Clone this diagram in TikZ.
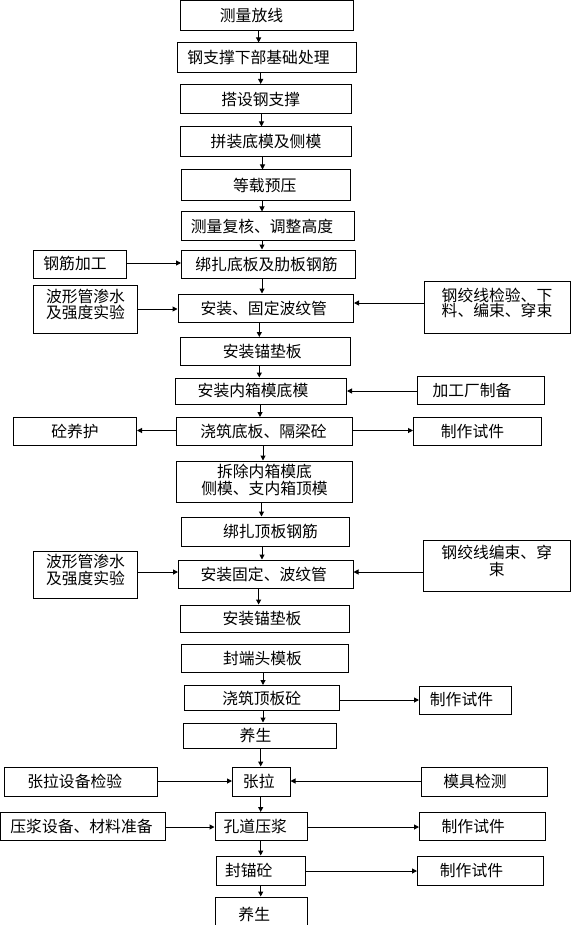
\documentclass[tikz,border=0pt]{standalone}
\usepackage{fontspec}
\setmainfont{Noto Sans CJK SC}
\usetikzlibrary{arrows.meta}
\tikzset{
  txt/.style={font=\fontsize{15.8}{15.5}\selectfont, align=center, inner sep=0pt},
  box/.style={draw, line width=1pt, inner sep=0pt, txt},
  arr/.style={line width=1pt, -{Triangle[length=5pt,width=5pt]}},
}
% single-line box: optional horizontal text shift
\newcommand\bx[7][0]{\node[box, minimum width={#5-#3}, minimum height={#6-#4}] (#2) at ({(#3+#5)/2},{(#4+#6)/2}) {\kern#1pt\relax #7\kern-#1pt\relax};}
% multi-line box: #1 = vertical text shift, #2 = line spacing
\newcommand\mbx[8]{\node[box, minimum width={#5-#3}, minimum height={#6-#4},
   label={[txt, yshift=#1pt, font=\fontsize{15.8}{#8}\selectfont]center:#7}] (#2) at ({(#3+#5)/2},{(#4+#6)/2}) {};}
\newcommand\varr[3]{\draw[arr] (#1.south -| #3,0) -- (#2.north -| #3,0);}
\newcommand\harr[3]{\draw[arr] (#1 |- 0,#3) -- (#2 |- 0,#3);}
\begin{document}
\begin{tikzpicture}[x=1pt,y=-1pt]
\path[use as bounding box, fill=white] (0,0) rectangle (571,925);
\clip (0,0) rectangle (571,925);
\bx[-15]{b1}{180}{0.5}{353}{31}{测量放线}
\bx[-8]{b2}{177}{43}{356}{72.5}{钢支撑下部基础处理}
\bx[-5]{b3}{180}{84.5}{351.5}{114}{搭设钢支撑}
\bx[0]{b4}{180.5}{127}{351.5}{156.5}{拼装底模及侧模}
\bx[-1]{b5}{181.5}{170}{350}{200.5}{等载预压}
\bx[-6]{b6}{181.5}{212}{354.5}{240.5}{测量复核、调整高度}
\bx[-5]{b7}{33.5}{250}{126.5}{278}{钢筋加工}
\bx[-2]{b8}{181.5}{250}{355.5}{278.5}{绑扎底板及肋板钢筋}
\mbx{4.3}{b9}{33.5}{285}{137.5}{333}{波形管渗水\\及强度实验}{15.5}
\bx[-2]{b10}{178}{294}{353.5}{322.5}{安装、固定波纹管}
\mbx{4.5}{b11}{424}{281}{570}{333}{钢绞线检验、下\\料、编束、穿束}{15}
\bx[-3]{b12}{180.5}{337.5}{350}{365}{安装锚垫板}
\bx[-8]{b13}{175.5}{378}{346.5}{404}{安装内箱模底模}
\bx[-9]{b14}{417.5}{376.5}{544.5}{404}{加工厂制备}
\bx[0]{b15}{13.5}{417.5}{136.5}{445.5}{砼养护}
\bx[-1]{b16}{176.5}{417.5}{352.5}{445.5}{浇筑底板、隔梁砼}
\bx[-5]{b17}{413.5}{417.5}{541.5}{445.5}{制作试件}
\mbx{1.5}{b18}{176.5}{461}{352.5}{502.5}{拆除内箱模底\\侧模、支内箱顶模}{17.3}
\bx[5]{b19}{181.5}{517}{349.5}{546}{绑扎顶板钢筋}
\mbx{4.5}{b20}{33.5}{551}{137.5}{598}{波形管渗水\\及强度实验}{17}
\bx[-2]{b21}{178.5}{560}{353}{588.5}{安装固定、波纹管}
\mbx{4.5}{b22}{423.5}{540}{570}{591}{钢绞线编束、穿\\束}{17}
\bx[-3]{b23}{180.5}{605}{349.5}{632}{安装锚垫板}
\bx[-2]{b24}{181}{644.5}{348}{672.5}{封端头模板}
\bx[0]{b25}{184}{685.5}{339.5}{710.5}{浇筑顶板砼}
\bx[-4]{b26}{419.5}{686}{511.5}{714}{制作试件}
\bx[-4]{b27}{183}{723}{336}{748}{养生}
\bx[-6]{b28}{4.5}{767}{157}{796.5}{张拉设备检验}
\bx[-2.5]{b29}{232.5}{767}{290}{796.5}{张拉}
\bx[-9]{b30}{421}{767}{547}{796.5}{模具检测}
\bx[-1.5]{b31}{0.5}{812.5}{165.5}{840.5}{压浆设备、材料准备}
\bx[-6]{b32}{215}{812.5}{307.5}{840.5}{孔道压浆}
\bx[-9]{b33}{419.5}{812.5}{545}{840.5}{制作试件}
\bx[-12]{b34}{216.5}{856}{305}{885.5}{封锚砼}
\bx[-9]{b35}{417.5}{856}{543.5}{885.5}{制作试件}
\bx[-7]{b36}{215}{897}{307.5}{932}{养生}
\varr{b1}{b2}{258.6}
\varr{b2}{b3}{260.7}
\varr{b3}{b4}{261.5}
\varr{b4}{b5}{262.5}
\varr{b5}{b6}{262}
\varr{b6}{b8}{262}
\varr{b8}{b10}{262}
\varr{b10}{b12}{259.3}
\varr{b12}{b13}{259.3}
\varr{b13}{b16}{260}
\varr{b16}{b18}{263}
\varr{b18}{b19}{261.5}
\varr{b19}{b21}{262}
\varr{b21}{b23}{258.6}
\varr{b24}{b25}{263}
\varr{b25}{b27}{263}
\varr{b27}{b29}{260.7}
\varr{b29}{b32}{260.7}
\varr{b32}{b34}{260.7}
\varr{b34}{b36}{260.7}
\harr{b7.east}{b8.west}{263}
\harr{b9.east}{b10.west}{309}
\harr{b11.west}{b10.east}{303}
\harr{b14.west}{b13.east}{391}
\harr{b16.west}{b15.east}{430.5}
\harr{b16.east}{b17.west}{430.5}
\harr{b20.east}{b21.west}{572}
\harr{b22.west}{b21.east}{572}
\harr{b25.east}{b26.west}{700}
\harr{b28.east}{b29.west}{781}
\harr{b30.west}{b29.east}{781}
\harr{b31.east}{b32.west}{827}
\harr{b32.east}{b33.west}{827}
\harr{b34.east}{b35.west}{871}
\end{tikzpicture}
\end{document}
